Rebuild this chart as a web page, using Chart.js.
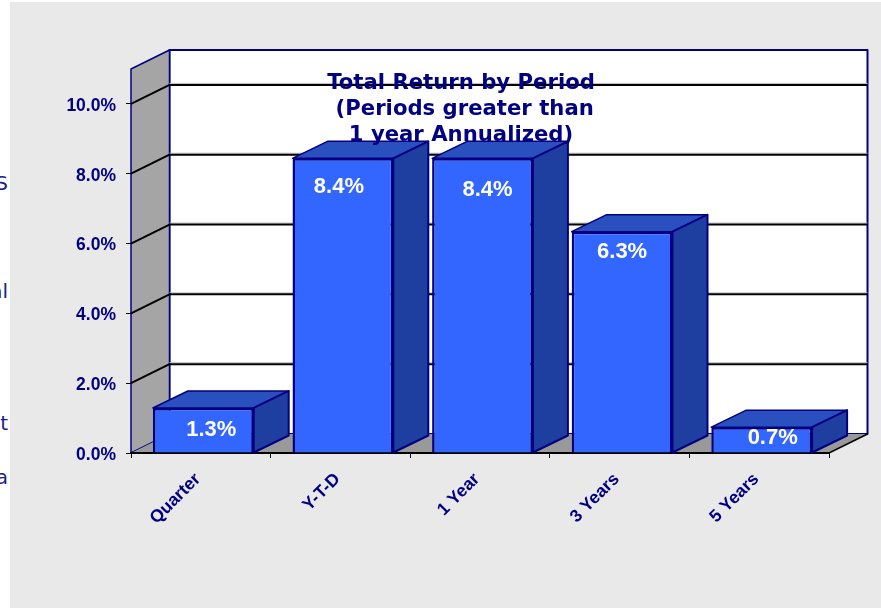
<!DOCTYPE html>
<html>
<head>
<meta charset="utf-8">
<title>Total Return by Period</title>
<script src="https://cdn.jsdelivr.net/npm/chart.js@4"></script>
<style>
    html, body { margin: 0; padding: 0; background: #fff; overflow: hidden; }
    #panel { position: absolute; left: 10px; top: 2px; width: 871px; height: 606px; background: #e9e9e9; }
    #wrap { position: absolute; left: 0; top: 0; width: 881px; height: 608px; }
    .cut { position: absolute; right: 873px; font: 20px "DejaVu Sans", sans-serif; color: #1c1c8c; white-space: nowrap; }
</style>
</head>
<body>
<div id="panel"></div>
<span class="cut" style="top:171px">S</span>
<span class="cut" style="top:279px">al</span>
<span class="cut" style="top:411px">t</span>
<span class="cut" style="top:465px">a</span>
<div id="wrap"><canvas id="return-chart" width="881" height="608"></canvas></div>
<script>
// Chart data
var categories = ["Quarter", "Y-T-D", "1 Year", "3 Years", "5 Years"];
var returns = [1.29, 8.44, 8.44, 6.34, 0.74];
var titleLines = ["Total Return by Period", " (Periods greater than", "1 year Annualized)"];

// Fake 3D look: how far the back wall sits from the front plane
var depthX = 38.5, depthY = 19;
var barShift = 2.5;
var labelNudgeX = [8, -4, 5, 0, 11];
var labelNudgeY = [22, 29, 32, 20, 11];

function poly(ctx, pts, fill, stroke, width) {
    ctx.beginPath();
    pts.forEach(function(p, i) { i ? ctx.lineTo(p[0], p[1]) : ctx.moveTo(p[0], p[1]); });
    ctx.closePath();
    if (fill) { ctx.fillStyle = fill; ctx.fill(); }
    if (stroke) { ctx.strokeStyle = stroke; ctx.lineWidth = width; ctx.lineJoin = "round"; ctx.stroke(); }
}

var box3d = {
    id: "box3d",
    // walls, floor and gridlines behind everything
    beforeDraw: function(chart) {
        var ctx = chart.ctx, a = chart.chartArea, y = chart.scales.y;
        var base = y.getPixelForValue(0);
        ctx.save();
        poly(ctx, [[a.left + depthX, a.top - depthY], [a.right + depthX, a.top - depthY], [a.right + depthX, base - depthY], [a.left + depthX, base - depthY]], "#ffffff", "#000080", 2);
        poly(ctx, [[a.left, a.top], [a.left + depthX, a.top - depthY], [a.left + depthX, base - depthY], [a.left, base]], "#a5a5a5", "#000080", 1.5);
        poly(ctx, [[a.left, base], [a.left + depthX, base - depthY], [a.right + depthX, base - depthY], [a.right, base]], "#999999", null);
        ctx.strokeStyle = "#000000";
        ctx.lineWidth = 1.5;
        ctx.beginPath();
        ctx.moveTo(a.right, base);
        ctx.lineTo(a.right + depthX, base - depthY);
        ctx.stroke();
        y.ticks.forEach(function(t) {
            if (t.value === 0) return;
            var py = y.getPixelForValue(t.value);
            ctx.strokeStyle = "#bbbbbb";
            ctx.lineWidth = 1;
            ctx.beginPath();
            ctx.moveTo(a.left + depthX, py - depthY - 1.5);
            ctx.lineTo(a.right + depthX, py - depthY - 1.5);
            ctx.stroke();
            ctx.strokeStyle = "#000000";
            ctx.lineWidth = 2;
            ctx.beginPath();
            ctx.moveTo(a.left, py);
            ctx.lineTo(a.left + depthX, py - depthY);
            ctx.lineTo(a.right + depthX, py - depthY);
            ctx.stroke();
        });
        ctx.restore();
    },
    // bar top and side faces, then the front face drawn by the library on top
    beforeDatasetsDraw: function(chart) {
        var ctx = chart.ctx;
        ctx.save();
        ctx.translate(barShift, 0);
        chart.getDatasetMeta(0).data.forEach(function(bar) {
            var p = bar.getProps(["x", "y", "base", "width"], true);
            var l = p.x - p.width / 2, r = p.x + p.width / 2;
            poly(ctx, [[l, p.y], [l + 35, p.y - 17], [r + 35, p.y - 17], [r, p.y]], "#2a50c0", "#000080", 1.5);
            poly(ctx, [[r, p.y], [r + 35, p.y - 17], [r + 35, p.base - 17], [r, p.base]], "#1f3fa0", "#000080", 2);
        });
    },
    afterDatasetsDraw: function(chart) {
        var ctx = chart.ctx;
        ctx.restore();
        // value labels
        ctx.save();
        ctx.font = "bold 22px 'Liberation Sans', Arial, sans-serif";
        ctx.fillStyle = "#ffffff";
        ctx.textAlign = "center";
        ctx.textBaseline = "middle";
        chart.getDatasetMeta(0).data.forEach(function(bar, i) {
            var p = bar.getProps(["x", "y"], true);
            ctx.fillText(returns[i].toFixed(1) + "%", p.x + barShift + labelNudgeX[i], p.y + labelNudgeY[i]);
        });
        // title sits over the bars
        ctx.font = "bold 21.2px 'DejaVu Sans', Verdana, sans-serif";
        ctx.fillStyle = "#000080";
        titleLines.forEach(function(line, i) {
            ctx.fillText(line, 461, 83 + i * 26);
        });
        ctx.restore();
    }
};

var tickFont = { family: "'Liberation Sans', Arial, sans-serif", size: 17.5, weight: "bold" };

var config = {
    type: "bar",
    plugins: [box3d],
    data: {
        labels: categories,
        datasets: [{
            label: "Total Return",
            data: returns,
            backgroundColor: "#3366ff",
            borderColor: "#000080",
            borderWidth: 2.5,
            barPercentage: 0.722,
            categoryPercentage: 1
        }]
    },
    options: {
        responsive: false,
        animation: false,
        layout: { padding: { top: 69, right: 52, left: 0, bottom: 0 } },
        plugins: {
            legend: { display: false },
            title: { display: false },
            tooltip: { enabled: false }
        },
        scales: {
            x: {
                offset: true,
                afterFit: function(s) { s.height = 155; },
                border: { color: "#000000", width: 2 },
                grid: {
                    offset: true,
                    drawOnChartArea: false,
                    color: "#000000",
                    tickLength: 5
                },
                ticks: {
                    color: "#000080",
                    font: tickFont,
                    minRotation: 45,
                    maxRotation: 45,
                    padding: 11,
                    labelOffset: -3
                }
            },
            y: {
                min: 0,
                max: 11,
                afterFit: function(s) { s.width = 131; },
                afterBuildTicks: function(s) {
                    s.ticks = s.ticks.filter(function(t) { return t.value <= 10; });
                },
                border: { display: false },
                grid: {
                    drawOnChartArea: false,
                    color: "#000000",
                    tickLength: 5
                },
                ticks: {
                    stepSize: 2,
                    color: "#000080",
                    font: tickFont,
                    padding: 10,
                    labelOffset: 2,
                    callback: function(v) { return v.toFixed(1) + "%"; }
                }
            }
        }
    }
};

new Chart(document.getElementById("return-chart"), config);
</script>
</body>
</html>
